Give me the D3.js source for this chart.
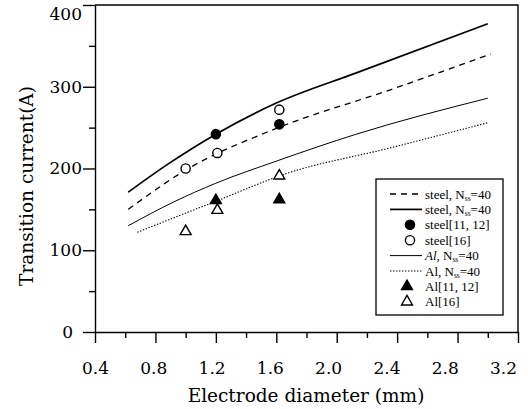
<!DOCTYPE html>
<html>
<head>
<meta charset="utf-8">
<script src="https://cdn.jsdelivr.net/npm/d3@7"></script>
<style>
  body { margin: 0; background: #fff; }
  svg { display: block; font-family: 'DejaVu Serif', serif; }
  .axis text { font-family: 'DejaVu Serif', serif; font-size: 17px; fill: #000; }
  .axis path, .axis line { stroke: #000; stroke-width: 1.4; }
  .legend text { font-family: 'Liberation Serif', serif; font-size: 13px; fill: #000; }
</style>
</head>
<body>
<svg class="chart" width="528" height="409"></svg>
<script>
// model curves (electrode diameter in mm -> transition current in A)
var steelSolidD = [0.62, 0.88, 1.2, 1.6, 2.13, 3.0]
var steelSolidI = [171, 205, 242, 280, 317, 377]

var steelDashD = [0.62, 1.0, 1.6, 2.35, 3.02]
var steelDashI = [150, 198, 249, 296, 340]

var alSolidD = [0.62, 0.92, 1.2, 1.6, 2.13, 3.0]
var alSolidI = [130, 159, 182, 209, 242, 286]

var alDotD = [0.68, 1.2, 1.67, 2.35, 3.0]
var alDotI = [122, 160, 194, 225, 256]

// measured points
var steelRefD = [1.2, 1.62]
var steelRefI = [242, 254]
var steel16D = [1.0, 1.21, 1.62]
var steel16I = [200, 219, 272]
var alRefD = [1.2, 1.62]
var alRefI = [161, 162]
var al16D = [1.0, 1.21, 1.62]
var al16I = [123, 149, 191]

var xTicks = [0.4, 0.8, 1.2, 1.6, 2.0, 2.4, 2.8, 3.2]
var xMinor = [0.6, 1.0, 1.4, 1.8, 2.2, 2.6, 3.0]
var yTicks = [0, 100, 200, 300, 400]
var yMinor = [50, 150, 250, 350]

function zip(d, v) {
  return d.map(function(x, i) { return { d: x, v: v[i] } })
}

var svg = d3.select('.chart')
var x = d3.scaleLinear().domain([0.4, 3.2]).range([95, 518])
var y = d3.scaleLinear().domain([0, 400]).range([332, 5])

// minor ticks
svg.append('g')
  .attr('class', 'axis')
  .attr('transform', 'translate(0,332)')
  .call(d3.axisBottom(x).tickValues(xMinor).tickSize(6).tickFormat(''))
  .select('.domain').remove()
svg.append('g')
  .attr('class', 'axis')
  .attr('transform', 'translate(95,0)')
  .call(d3.axisLeft(y).tickValues(yMinor).tickSize(6).tickFormat(''))
  .select('.domain').remove()

// major axes
var xAxis = svg.append('g')
  .attr('class', 'axis')
  .attr('transform', 'translate(0,332)')
  .call(d3.axisBottom(x).tickValues(xTicks).tickSize(11).tickSizeOuter(0).tickPadding(19).tickFormat(d3.format('.1f')))
// labels sit a little to the left of their ticks, as in the scan
xAxis.selectAll('.tick text')
  .attr('dx', function(d) { return -(d - 0.4) / 2.8 * 15 })

var yAxis = svg.append('g')
  .attr('class', 'axis')
  .attr('transform', 'translate(95,0)')
  .call(d3.axisLeft(y).tickValues(yTicks).tickSize(12).tickSizeOuter(0).tickPadding(1))
yAxis.selectAll('.tick text')
  .attr('dx', function(d) { return d === 0 ? -9 : 0 })
  .attr('dy', function(d) { return d === 400 ? '0.85em' : '0.32em' })

// frame top / right
svg.append('path')
  .attr('d', 'M' + x(0.4) + ',' + y(400) + 'H' + x(3.2) + 'V' + y(0))
  .attr('fill', 'none')
  .attr('stroke', '#000')
  .attr('stroke-width', 1.4)

var line = d3.line()
  .x(function(p) { return x(p.d) })
  .y(function(p) { return y(p.v) })
  .curve(d3.curveMonotoneX)

var curves = [
  { pts: zip(steelSolidD, steelSolidI), w: 1.7, dash: null },
  { pts: zip(steelDashD, steelDashI), w: 1.3, dash: '6,5' },
  { pts: zip(alSolidD, alSolidI), w: 1.0, dash: null },
  { pts: zip(alDotD, alDotI), w: 1.1, dash: '1.4,1.6' }
]

svg.selectAll('.curve')
  .data(curves)
  .enter()
  .append('path')
  .attr('class', 'curve')
  .attr('d', function(c) { return line(c.pts) })
  .attr('fill', 'none')
  .attr('stroke', '#000')
  .attr('stroke-width', function(c) { return c.w })
  .attr('stroke-dasharray', function(c) { return c.dash })

var tri = d3.symbol().type(d3.symbolTriangle).size(52)

function drawMarkers(pts, kind) {
  var g = svg.append('g')
  pts.forEach(function(p) {
    drawOne(g, x(p.d), y(p.v), kind)
  })
}

function drawOne(g, cx, cy, kind) {
  if (kind === 'fc' || kind === 'oc') {
    g.append('circle')
      .attr('cx', cx).attr('cy', cy).attr('r', 4.6)
      .attr('fill', kind === 'fc' ? '#000' : '#fff')
      .attr('stroke', '#000').attr('stroke-width', 1.4)
  } else {
    g.append('path')
      .attr('d', tri)
      .attr('transform', 'translate(' + cx + ',' + cy + ')')
      .attr('fill', kind === 'ft' ? '#000' : '#fff')
      .attr('stroke', '#000').attr('stroke-width', 1.4)
  }
}

drawMarkers(zip(steelRefD, steelRefI), 'fc')
drawMarkers(zip(steel16D, steel16I), 'oc')
drawMarkers(zip(alRefD, alRefI), 'ft')
drawMarkers(zip(al16D, al16I), 'ot')

// legend
var legendItems = [
  { label: 'steel, N', sub: 'ss', tail: '=40', line: curves[1] },
  { label: 'steel, N', sub: 'ss', tail: '=40', line: curves[0] },
  { label: 'steel[11, 12]', mark: 'fc' },
  { label: 'steel[16]', mark: 'oc' },
  { label: 'Al, N', sub: 'ss', tail: '=40', line: curves[2], italic: true },
  { label: 'Al, N', sub: 'ss', tail: '=40', line: curves[3] },
  { label: 'Al[11, 12]', mark: 'ft' },
  { label: 'Al[16]', mark: 'ot' }
]

var legend = svg.append('g').attr('class', 'legend')
legend.append('rect')
  .attr('x', 376).attr('y', 179)
  .attr('width', 127).attr('height', 136)
  .attr('fill', '#fff')
  .attr('stroke', '#000')
  .attr('stroke-width', 1.3)

legendItems.forEach(function(it, i) {
  var cy = 194 + i * 15.4
  if (it.line) {
    legend.append('line')
      .attr('x1', 390).attr('x2', 422)
      .attr('y1', cy).attr('y2', cy)
      .attr('stroke', '#000')
      .attr('stroke-width', it.line.w)
      .attr('stroke-dasharray', it.line.dash)
  } else {
    drawOne(legend, it.mark.charAt(1) === 't' ? 407 : 410, cy, it.mark)
  }
  var t = legend.append('text')
    .attr('x', 425)
    .attr('y', cy + 4.5)
  if (it.sub) {
    var parts = it.label.split(',')
    t.append('tspan').text(parts[0]).attr('font-style', it.italic ? 'italic' : null)
    t.append('tspan').text(',' + parts[1])
    t.append('tspan').text(it.sub).attr('font-size', 7.5).attr('dy', 2)
    t.append('tspan').text(it.tail).attr('dy', -2)
  } else {
    t.text(it.label)
  }
})

// axis titles
svg.append('text')
  .attr('x', 306)
  .attr('y', 402)
  .attr('text-anchor', 'middle')
  .attr('font-size', 18.5)
  .attr('fill', '#000')
  .text('Electrode diameter (mm)')

svg.append('text')
  .attr('transform', 'translate(33,186) rotate(-90)')
  .attr('text-anchor', 'middle')
  .attr('font-size', 18.5)
  .attr('fill', '#000')
  .text('Transition current(A)')
</script>
</body>
</html>
